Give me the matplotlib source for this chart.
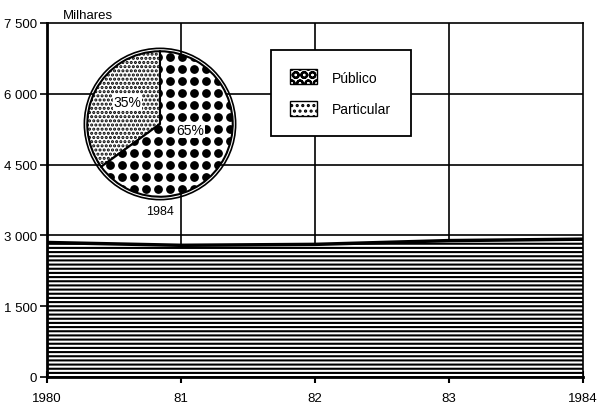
import numpy as np
import matplotlib
matplotlib.use('Agg')
import matplotlib.pyplot as plt
from matplotlib.patches import Patch, Circle

plt.rcParams['font.family'] = ['Liberation Sans', 'DejaVu Sans']
plt.rcParams['hatch.linewidth'] = 1.5

# data
years = [1980, 1981, 1982, 1983, 1984]
matriculas = [2850, 2790, 2810, 2890, 2920]   # milhares
xLabels = ['1980', '81', '82', '83', '1984']
yTicks = [0, 1500, 3000, 4500, 6000, 7500]
yLabels = ['0', '1 500', '3 000', '4 500', '6 000', '7 500']
pieLabels = ['Particular', 'Público']
pieShares = [35, 65]

W, H = 599, 410
fig = plt.figure(figsize=(W / 100, H / 100), dpi=100)
ax = fig.add_axes([47 / W, 1 - 378 / H, 536 / W, 354 / H])

ax.set_xlim(1980, 1984)
ax.set_ylim(0, 7500)
ax.set_xticks(years)
ax.set_xticklabels(xLabels, fontsize=9.5)
ax.set_yticks(yTicks)
ax.set_yticklabels(yLabels, fontsize=9.5)
ax.tick_params(axis='y', direction='out', length=5, width=1.2, pad=2)
ax.tick_params(axis='x', direction='inout', length=8, width=1.5, pad=7)

# grid
for y in yTicks[1:-1]:
    ax.axhline(y, color='black', lw=1.2, zorder=1)
for x in years[1:-1]:
    ax.axvline(x, color='black', lw=1.2, zorder=1)

for s in ax.spines.values():
    s.set_linewidth(1.2)
ax.spines['left'].set_linewidth(2)
ax.spines['bottom'].set_linewidth(2)

# area
ax.fill_between(years, 0, matriculas, facecolor='white', edgecolor='black',
                hatch='----', linewidth=0, zorder=2)
ax.plot(years, matriculas, color='black', lw=2.5, zorder=3)

ax.text(0.03, 1.005, 'Milhares', transform=ax.transAxes,
        fontsize=9.5, ha='left', va='bottom')

# legend
handles = [Patch(facecolor='white', edgecolor='black', hatch='OO', label='Público'),
           Patch(facecolor='white', edgecolor='black', hatch='...', label='Particular')]
leg = ax.legend(handles=handles, loc='upper left', bbox_to_anchor=(0.418, 0.924),
                fontsize=10, frameon=True, fancybox=False, borderpad=1.4,
                handlelength=1.9, handleheight=1.3, labelspacing=1.2,
                handletextpad=1.1, borderaxespad=0)
leg.get_frame().set_edgecolor('black')
leg.get_frame().set_linewidth(1.3)
leg.get_frame().set_alpha(1)

# pie inset
pax = fig.add_axes([80 / W, 1 - 205 / H, 160 / W, 160 / H])
wedges, _ = pax.pie(pieShares, startangle=90, counterclock=True,
                    colors=['white', 'white'],
                    wedgeprops=dict(edgecolor='black', linewidth=1.5))
wedges[0].set_hatch('....')
pax.add_patch(Circle((0, 0), 1.04, fill=False, edgecolor='black', lw=1.2))

# dot texture for Público
gx, gy = np.meshgrid(np.arange(-1.1, 1.1, 0.165), np.arange(-1.1, 1.1, 0.165))
dots = pax.scatter(gx.ravel() + 0.08, gy.ravel() + 0.04, s=28, color='black', zorder=3)
dots.set_clip_path(wedges[1])

pax.text(-0.45, 0.3, '35%', fontsize=10, ha='center', va='center', zorder=4,
         bbox=dict(facecolor='white', edgecolor='none', pad=0.5))
pax.text(0.42, -0.08, '65%', fontsize=10, ha='center', va='center', zorder=4,
         bbox=dict(facecolor='white', edgecolor='none', pad=0.5))
pax.text(0, -1.12, '1984', fontsize=9, ha='center', va='top')
pax.set_xlim(-1.1, 1.1)
pax.set_ylim(-1.1, 1.1)
pax.set_aspect('equal')
pax.axis('off')

fig.savefig('out.png', dpi=100, facecolor='white')
